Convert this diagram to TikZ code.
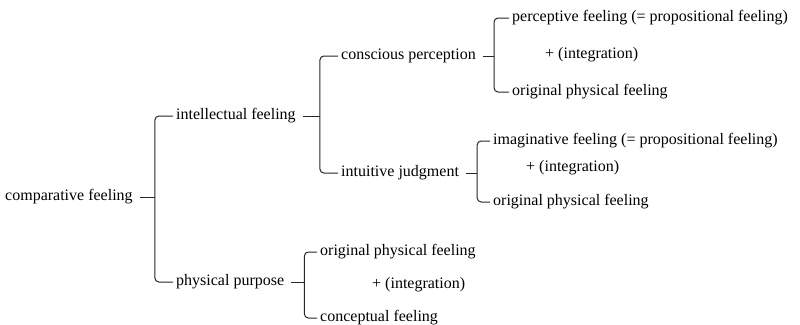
\documentclass[tikz,border=0pt]{standalone}
\usepackage{fontspec}
\setmainfont{Liberation Serif}
\usetikzlibrary{calc}

\begin{document}
\begin{tikzpicture}[x=1pt, y=-1pt,
item/.style={anchor=west, inner xsep=3pt, inner ysep=0pt, font=\fontsize{16}{19}\selectfont},
brk/.style={line width=1pt, black!85, rounded corners=4pt}]
\tikzstyle{tick}=[line width=1pt, black!85, shorten <=4pt]
 \def\dx{3}
\useasboundingbox (0,0) rectangle (800,324);
%feelings
\node[item] (comp)  at (5-\dx,197)   {comparative feeling};
\node[item] (intel) at (176-\dx,116) {intellectual feeling};
\node[item] (phys)  at (176-\dx,282) {physical purpose};
\node[item] (consc) at (341-\dx,56)  {conscious perception};
\node[item] (intu)  at (341-\dx,173) {intuitive judgment};
\node[item] (perc)  at (512-\dx,18)  {perceptive feeling (= propositional feeling)};
\node[item] (intA)  at (545-\dx,55)  {+ (integration)};
\node[item] (origA) at (512-\dx,92)  {original physical feeling};
\node[item] (imag)  at (493-\dx,141) {imaginative feeling (= propositional feeling)};
\node[item] (intB)  at (526-\dx,168) {+ (integration)};
\node[item] (origB) at (493-\dx,202) {original physical feeling};
\node[item] (origC) at (320-\dx,252) {original physical feeling};
\node[item] (intC)  at (372-\dx,285) {+ (integration)};
\node[item] (conc)  at (320-\dx,318) {conceptual feeling};
%brackets
\coordinate (vA) at ([xshift=19pt]comp.east);
\coordinate (vB) at ([xshift=21pt]intel.east);
\coordinate (vC) at ([xshift=15pt]consc.east);
\coordinate (vD) at ([xshift=15pt]intu.east);
\coordinate (vE) at ([xshift=17pt]phys.east);
\draw[tick] (comp.east) -- (vA);
\draw[brk] (intel.west) -| (vA) |- (phys.west);
\draw[tick] (intel.east) -- (vB);
\draw[brk] (consc.west) -| (vB) |- (intu.west);
\draw[tick] (consc.east) -- (vC);
\draw[brk] (perc.west) -| (vC) |- (origA.west);
\draw[tick] (intu.east) -- (vD);
\draw[brk] (imag.west) -| (vD) |- (origB.west);
\draw[tick] (phys.east) -- (vE);
\draw[brk] (origC.west) -| (vE) |- (conc.west);
\end{tikzpicture}
\end{document}
